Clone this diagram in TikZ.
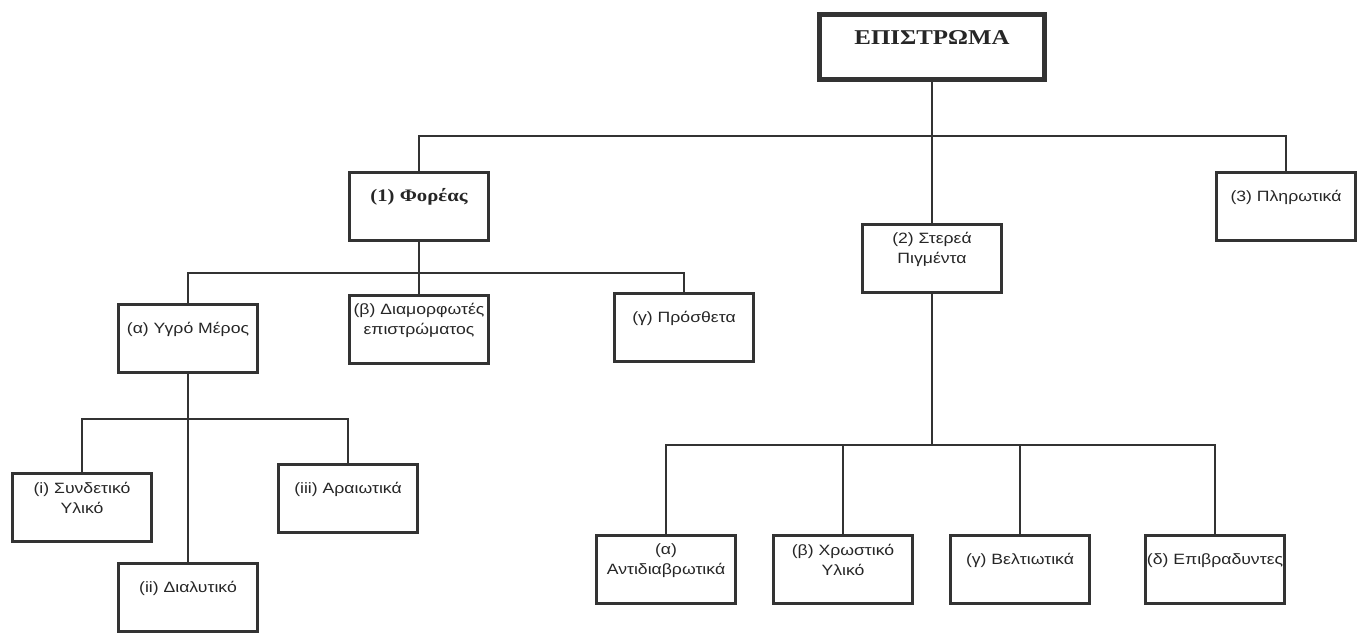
\documentclass[tikz,border=0pt]{standalone}
\usepackage{fontspec}
\usepackage{xcolor}
\usepackage{tikz}
\usetikzlibrary{positioning}
\setmainfont{Liberation Sans}[FakeStretch=1.18]
\newfontfamily\titlef{Liberation Serif}[FakeStretch=1.18]
\definecolor{linec}{HTML}{333333}
\definecolor{txtc}{HTML}{262626}
\tikzset{
  link/.style={linec,line width=1.5pt},
  blk/.style={draw=linec,line width=1.5pt,inner sep=0pt,anchor=north,text=txtc,
    font=\fontsize{8.5}{11.4}\selectfont,
    execute at begin node={\begin{minipage}[c][1.36cm][t]{2.77cm}\centering
      \begin{minipage}[c][1.0cm][c]{2.77cm}\centering},
    execute at end node={\end{minipage}\end{minipage}}},
  head/.style={draw=linec,line width=2.8pt,inner sep=0pt,anchor=north,text=txtc,
    minimum width=4.5cm,text height=0.6cm,text depth=0.7cm,
    font=\titlef\bfseries\fontsize{12}{14}\selectfont}
}
\begin{document}
\begin{tikzpicture}[x=0.02cm,y=-0.02cm]
\useasboundingbox (0,0) rectangle (1365,632);
\node[head] (root) at (932,12) {ΕΠΙΣΤΡΩΜΑ};
\node[blk,font=\titlef\bfseries\fontsize{10}{12}\selectfont] (phor) at (419,171) {(1) Φορέας};
\node[blk] (sterea) at (932,223) {(2) Στερεά\\Πιγμέντα};
\node[blk] (plir) at (1286,171) {(3) Πληρωτικά};
\node[blk] (ygro) at (188,303) {(α) Υγρό Μέρος};
\node[blk] (diam) at (419,294) {(β) Διαμορφωτές\\επιστρώματος};
\node[blk] (prosth) at (684,292) {(γ) Πρόσθετα};
\node[blk] (synd) at (82,472) {(i) Συνδετικό\\Υλικό};
\node[blk] (dial) at (188,562) {(ii) Διαλυτικό};
\node[blk] (araio) at (348,463) {(iii) Αραιωτικά};
\node[blk] (antid) at (666,534) {(α)\\Αντιδιαβρωτικά};
\node[blk] (chrom) at (843,534) {(β) Χρωστικό\\Υλικό};
\node[blk] (belt) at (1020,534) {(γ) Βελτιωτικά};
\node[blk] (epib) at (1215,534) {(δ) Επιβραδυντες};
\coordinate (j1) at (932,136);
\coordinate (j2) at (419,273);
\coordinate (j3) at (188,419);
\coordinate (j4) at (932,445);
\draw[link] (root.south) -- (j1);
\draw[link] (phor.north) |- (j1) -| (plir.north);
\draw[link] (j1) -- (sterea.north);
\draw[link] (phor.south) -- (diam.north);
\draw[link] (ygro.north) |- (j2) -| (prosth.north);
\draw[link] (ygro.south) -- (dial.north);
\draw[link] (synd.north) |- (j3) -| (araio.north);
\draw[link] (sterea.south) -- (j4);
\draw[link] (antid.north) |- (j4) -| (epib.north);
\draw[link] (chrom.north) |- (j4);
\draw[link] (belt.north) |- (j4);
\end{tikzpicture}
\end{document}
